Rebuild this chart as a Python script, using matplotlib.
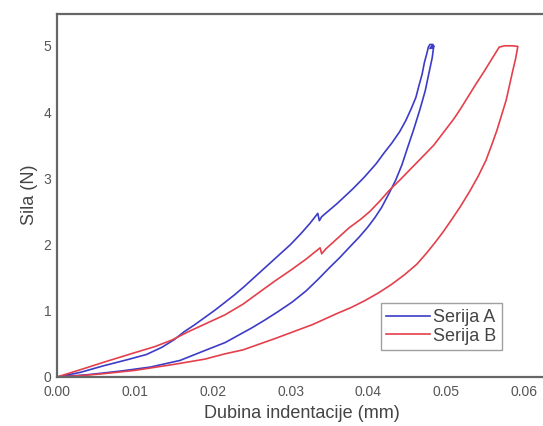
import matplotlib
matplotlib.use("Agg")
import matplotlib.pyplot as plt

plt.rcParams['font.family'] = ['Liberation Sans', 'DejaVu Sans']

# Serija A (blue): loading, hold, unloading
a_x = [0.0, 0.003, 0.006, 0.009, 0.0115, 0.0135, 0.0150, 0.0163, 0.0177, 0.019, 0.0203, 0.0215,
       0.0228, 0.024, 0.0255, 0.027, 0.0285, 0.030, 0.0313, 0.0325, 0.0335, 0.0337, 0.0340,
       0.035, 0.036, 0.037, 0.038, 0.0395, 0.041, 0.042, 0.043,
       0.044, 0.0448, 0.0455, 0.0461, 0.0465, 0.0469, 0.0472, 0.0475, 0.0477, 0.0479, 0.0483,
       0.0479, 0.0483,
       0.0484, 0.0482, 0.0478, 0.0473, 0.0466, 0.0458, 0.0450, 0.0443, 0.0435, 0.0426, 0.0417,
       0.0408, 0.0399, 0.0388, 0.0375, 0.0363, 0.035, 0.0335,
       0.032, 0.0302, 0.0283, 0.0267, 0.025, 0.0233, 0.0216, 0.019, 0.0158, 0.012, 0.0082,
       0.004, 0.0]
a_y = [0.0, 0.07, 0.17, 0.26, 0.34, 0.45, 0.56, 0.68, 0.79, 0.90, 1.01, 1.12,
       1.24, 1.36, 1.52, 1.68, 1.84, 2.00, 2.16, 2.32, 2.47, 2.36, 2.42,
       2.52, 2.62, 2.73, 2.84, 3.02, 3.22, 3.38, 3.53,
       3.70, 3.87, 4.05, 4.22, 4.40, 4.57, 4.75, 4.88, 4.98, 5.02, 5.02,
       4.96, 4.97,
       5.00, 4.82, 4.60, 4.32, 4.03, 3.73, 3.45, 3.20, 2.97, 2.76, 2.56,
       2.40, 2.26, 2.11, 1.95, 1.80, 1.65, 1.47,
       1.30, 1.13, 0.98, 0.86, 0.74, 0.63, 0.52, 0.40, 0.25, 0.15, 0.09,
       0.035, 0.0]

# Serija B (red): loading, hold, unloading
b_x = [0.0, 0.003, 0.0062, 0.0095, 0.0126, 0.0148, 0.0168, 0.0192, 0.0216, 0.0239, 0.026, 0.028,
       0.030, 0.032, 0.0338, 0.0340, 0.0345, 0.036, 0.0375, 0.039, 0.0402, 0.0415, 0.0427,
       0.0441, 0.0455, 0.047, 0.0484, 0.0497, 0.0510,
       0.0519, 0.0528, 0.0538, 0.0548, 0.0558, 0.0568, 0.0575, 0.0585, 0.0592,
       0.0589, 0.0585, 0.0581, 0.0577, 0.0571, 0.0565, 0.0558, 0.0551, 0.0541, 0.0530,
       0.0518, 0.0506, 0.0496, 0.0485, 0.0474, 0.0462, 0.0446, 0.043,
       0.0413, 0.0395, 0.0378, 0.036, 0.0328, 0.028, 0.0239, 0.0216, 0.019, 0.015, 0.010,
       0.006, 0.003, 0.0]
b_y = [0.0, 0.11, 0.23, 0.35, 0.46, 0.56, 0.68, 0.81, 0.94, 1.10, 1.28, 1.45,
       1.61, 1.78, 1.95, 1.86, 1.93, 2.09, 2.25, 2.38, 2.50, 2.66, 2.82,
       2.98, 3.15, 3.33, 3.50, 3.70, 3.90,
       4.06, 4.23, 4.42, 4.60, 4.79, 4.98, 5.00, 5.00, 4.99,
       4.80, 4.60, 4.39, 4.18, 3.95, 3.72, 3.49, 3.27, 3.03, 2.80,
       2.57, 2.36, 2.19, 2.02, 1.86, 1.70, 1.54, 1.40,
       1.27, 1.15, 1.05, 0.96, 0.79, 0.58, 0.41, 0.35, 0.27, 0.19, 0.10,
       0.05, 0.02, 0.0]

x_ticks = [0.00, 0.01, 0.02, 0.03, 0.04, 0.05, 0.06]
x_ticklabels = ["0.00", "0.01", "0.02", "0.03", "0.04", "0.05", "0.06"]
y_ticks = [0, 1, 2, 3, 4, 5]

fig = plt.figure(figsize=(5.43, 4.26), dpi=100)
ax = fig.add_axes([57/543, 49/426, 506/543, 363/426])

ax.plot(a_x, a_y, color='#3c3cc8', lw=1.2, label='Serija A')
ax.plot(b_x, b_y, color='#e4404c', lw=1.2, label='Serija B')

ax.set_xlim(0, 0.065)
ax.set_ylim(0, 5.48)
ax.set_xticks(x_ticks)
ax.set_xticklabels(x_ticklabels)
ax.set_yticks(y_ticks)
ax.tick_params(length=0, labelsize=10, labelcolor='#555555')
ax.tick_params(axis='x', pad=6)
ax.tick_params(axis='y', pad=4)

for s in ax.spines.values():
    s.set_color('#666666')
    s.set_linewidth(1.6)

ax.set_xlabel('Dubina indentacije (mm)', fontsize=13, color='#444444')
ax.set_ylabel('Sila (N)', fontsize=13, color='#444444')
ax.xaxis.set_label_coords((302 - 57) / 506, -(413 - 377) / 363)
ax.yaxis.set_label_coords(-(57 - 29) / 506, 0.5 + (196 - 195.5) / 363)
ax.xaxis.label.set_va('center')
ax.yaxis.label.set_va('center')

leg = ax.legend(loc='lower left', bbox_to_anchor=(0.64, 0.074), borderaxespad=0,
                fancybox=False, edgecolor='#888888', fontsize=13, handlelength=2.4,
                handletextpad=0.2, labelspacing=0.1, borderpad=0.3)
for t in leg.get_texts():
    t.set_color('#444444')
leg.get_frame().set_linewidth(1.0)

fig.savefig('out.png', dpi=100)
